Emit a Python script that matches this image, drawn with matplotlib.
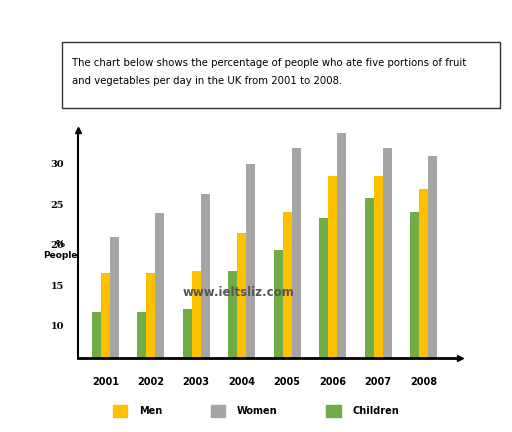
import numpy as np
import matplotlib.pyplot as plt
from matplotlib.patches import Patch, Rectangle

years = ['2001', '2002', '2003', '2004', '2005', '2006', '2007', '2008']
children = [11.7, 11.7, 12.1, 16.7, 19.3, 23.3, 25.8, 24.0]
men = [16.5, 16.5, 16.7, 21.5, 24.0, 28.5, 28.5, 26.9]
women = [21.0, 23.9, 26.3, 30.0, 32.0, 33.8, 32.0, 31.0]
yticks = [10, 15, 20, 25, 30]

c_green = '#70ad47'
c_yellow = '#ffc000'
c_gray = '#a5a5a5'

fig = plt.figure(figsize=(5.12, 4.32), dpi=100)

# title box
fig.patches.append(Rectangle((62 / 512, 1 - 108 / 432), 438 / 512, 66 / 432,
                             transform=fig.transFigure, fill=False, lw=1, ec='#333333'))
fig.text(72 / 512, 1 - 72 / 432,
         'The chart below shows the percentage of people who ate five portions of fruit\n'
         'and vegetables per day in the UK from 2001 to 2008.',
         fontsize=7.3, va='center', ha='left', linespacing=1.9)

ax = fig.add_axes([78 / 512, 74 / 432, 382 / 512, 228 / 432])
x = np.arange(len(years))
w = 0.2
ax.bar(x - w, children, w, color=c_green)
ax.bar(x, men, w, color=c_yellow)
ax.bar(x + w, women, w, color=c_gray)
ax.set_ylim(6, 34.2)
ax.set_xlim(-0.6, 7.8)
for s in ['top', 'right']:
    ax.spines[s].set_visible(False)
ax.spines['left'].set_linewidth(1.5)
ax.spines['bottom'].set_linewidth(2)
ax.plot(1, 0, '>k', ms=5, transform=ax.transAxes, clip_on=False)
ax.plot(0, 1, '^k', ms=5, transform=ax.transAxes, clip_on=False)
ax.set_yticks(yticks)
ax.set_yticklabels([str(t) for t in yticks], fontsize=7, fontweight='bold', family='DejaVu Serif')
ax.tick_params(axis='y', length=0, pad=10)
ax.set_xticks(x)
ax.set_xticklabels(years, fontsize=7, fontweight='bold')
ax.tick_params(axis='x', length=0, pad=14)
fig.text(60 / 512, 1 - 250 / 432, '%\nPeople', ha='center', va='center',
         fontsize=6.5, fontweight='bold')
ax.text(0.42, 0.27, 'www.ieltsliz.com', transform=ax.transAxes, ha='center',
        fontsize=8.5, fontweight='bold', color='#555555')

handles = [Patch(color=c_yellow), Patch(color=c_gray), Patch(color=c_green)]
fig.legend(handles, ['Men', 'Women', 'Children'], ncol=3, loc='center',
           bbox_to_anchor=(0.5, 1 - 411 / 432), frameon=False,
           prop={'size': 7, 'weight': 'bold'}, handlelength=1.5, handleheight=1.4,
           columnspacing=5, handletextpad=1.2)

fig.savefig('out.png', dpi=100)
